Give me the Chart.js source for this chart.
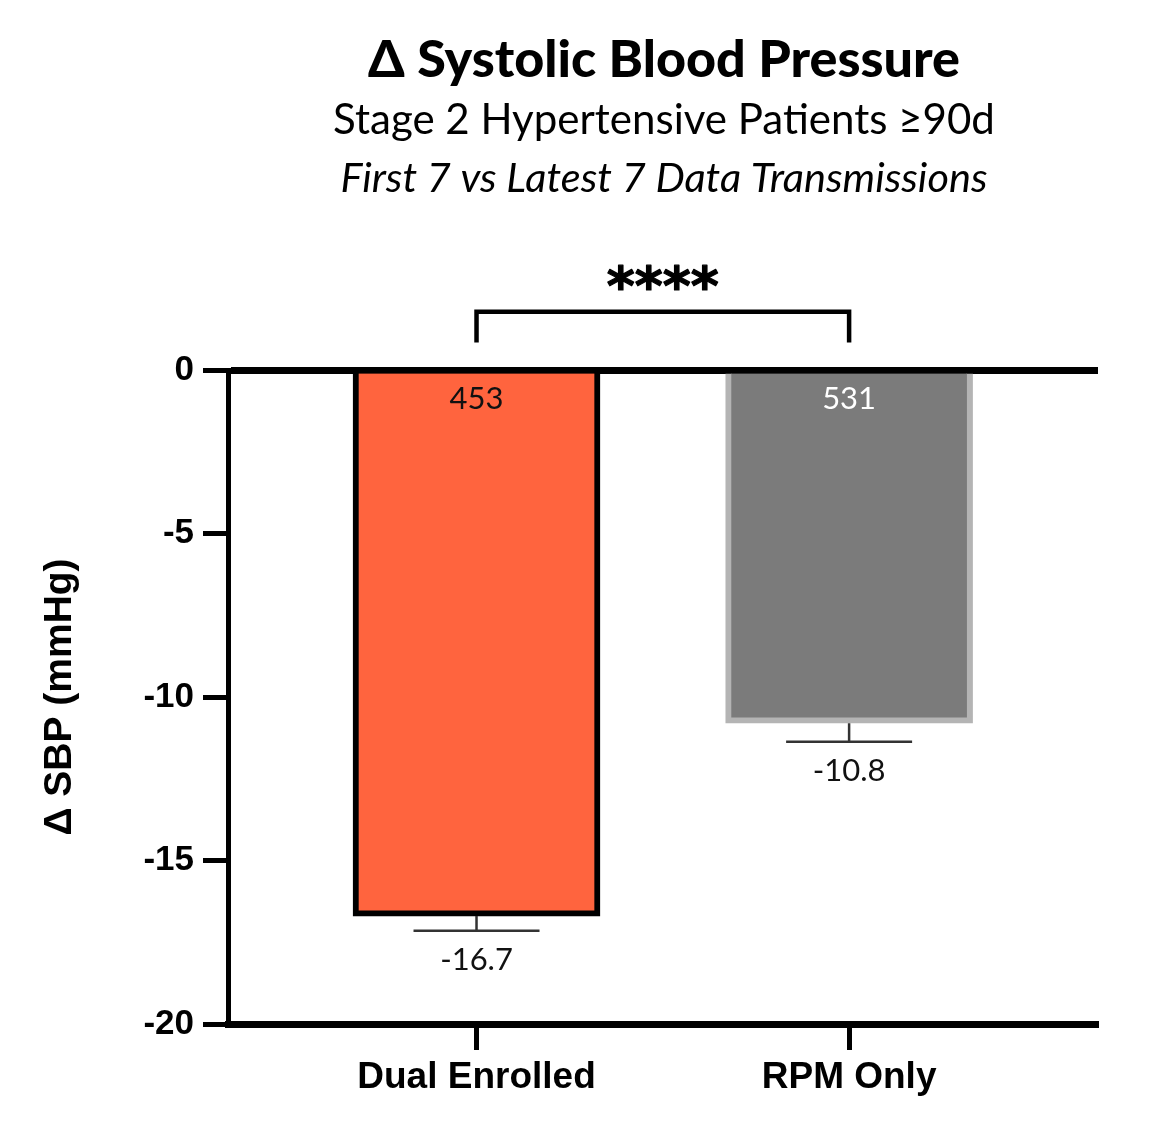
<!DOCTYPE html>
<html><head><meta charset="utf-8">
<script src="https://cdn.jsdelivr.net/npm/chart.js@4.4.1/dist/chart.umd.min.js"></script>
<style>html,body{margin:0;padding:0;background:#fff;} canvas{display:block;}</style>
</head><body>
<canvas id="c" width="1158" height="1138"></canvas>
<script>
const categories = ['Dual Enrolled', 'RPM Only'];
const meanChange = [-16.7, -10.8];
const semChange = [0.45, 0.57];
const patientCounts = ['453', '531'];
const meanLabels = ['-16.7', '-10.8'];
const yTickValues = [0, -5, -10, -15, -20];
const titleLines = ['Δ Systolic Blood Pressure', 'Stage 2 Hypertensive Patients ≥90d', 'First 7 vs Latest 7 Data Transmissions'];
const yAxisTitle = 'Δ SBP (mmHg)';
const sigPair = [0, 1];
const sigLabel = '****';

const GILL = 'Lato, "Open Sans", sans-serif';
const ARIAL = '"Liberation Sans", Arial, sans-serif';

function fitFont(ctx, text, tmpl, target) {
  ctx.font = tmpl(100);
  const w = ctx.measureText(text).width;
  return tmpl(100 * target / w);
}

const annot = {
  id: 'annot',
  afterDatasetsDraw(chart) {
    const {ctx, scales: {x, y}} = chart;
    ctx.save();
    meanChange.forEach((m, i) => {
      const px = x.getPixelForValue(i);
      const y0 = y.getPixelForValue(m);
      const y1 = y.getPixelForValue(m - semChange[i]);
      ctx.strokeStyle = '#333';
      ctx.lineWidth = 2.5;
      ctx.beginPath();
      ctx.moveTo(px, y0); ctx.lineTo(px, y1);
      ctx.moveTo(px - 63, y1); ctx.lineTo(px + 63, y1);
      ctx.stroke();
      ctx.textAlign = 'center';
      ctx.textBaseline = 'middle';
      ctx.fillStyle = '#111';
      ctx.font = '31px ' + GILL;
      ctx.fillText(meanLabels[i], px, y1 + 29);
      ctx.fillStyle = i === 0 ? '#111' : '#fff';
      ctx.fillText(patientCounts[i], px, y.getPixelForValue(0) + 29);
    });
    const bx0 = x.getPixelForValue(sigPair[0]);
    const bx1 = x.getPixelForValue(sigPair[1]);
    const btop = y.getPixelForValue(1.78);
    const btip = y.getPixelForValue(0.84);
    ctx.strokeStyle = '#000';
    ctx.lineWidth = 4.5;
    ctx.lineJoin = 'miter';
    ctx.beginPath();
    ctx.moveTo(bx0, btip); ctx.lineTo(bx0, btop); ctx.lineTo(bx1, btop); ctx.lineTo(bx1, btip);
    ctx.stroke();
    ctx.fillStyle = '#000';
    ctx.textAlign = 'center';
    ctx.textBaseline = 'alphabetic';
    ctx.font = fitFont(ctx, sigLabel, s => 'bold ' + s + 'px "DejaVu Sans", sans-serif', 112);
    const mt = ctx.measureText(sigLabel);
    const cy = y.getPixelForValue(2.83);
    const sy = cy + (mt.actualBoundingBoxAscent - mt.actualBoundingBoxDescent) / 2;
    ctx.fillText(sigLabel, (bx0 + bx1) / 2, sy);
    ctx.lineWidth = 1.2;
    ctx.lineJoin = 'round';
    ctx.strokeText(sigLabel, (bx0 + bx1) / 2, sy);
    const tx = 664;
    ctx.fillStyle = '#000';
    ctx.font = fitFont(ctx, titleLines[0], s => '900 ' + s + 'px ' + GILL, 592);
    ctx.fillText(titleLines[0], tx, 77);
    ctx.font = fitFont(ctx, titleLines[1], s => '400 ' + s + 'px ' + GILL, 662);
    ctx.fillText(titleLines[1], tx, 134);
    ctx.font = fitFont(ctx, titleLines[2], s => 'italic 400 ' + s + 'px ' + GILL, 647);
    ctx.fillText(titleLines[2], tx, 192);
    ctx.restore();
  }
};

new Chart(document.getElementById('c'), {
  type: 'bar',
  data: {
    datasets: [{
      data: categories.map((c, i) => ({x: i, y: meanChange[i]})),
      backgroundColor: ['#FF643E', '#7B7B7B'],
      borderColor: ['#000000', '#B4B4B4'],
      borderWidth: [6, 6],
      barThickness: 247,
      borderSkipped: 'start'
    }]
  },
  options: {
    responsive: false,
    animation: false,
    layout: {padding: {top: 370, right: 60, bottom: 0, left: 0}},
    plugins: {legend: {display: false}, tooltip: {enabled: false}, title: {display: false}},
    scales: {
      x: {
        type: 'linear',
        offset: false,
        min: -0.667,
        max: 1.668,
        afterBuildTicks: s => { s.ticks = categories.map((c, i) => ({value: i})); },
        afterFit: s => { s.height = 114; },
        ticks: {
          callback: v => categories[v],
          color: '#000',
          font: {family: ARIAL, size: 37, weight: 'bold'},
          padding: 6,
          maxRotation: 0,
          autoSkip: false
        },
        grid: {offset: false, drawOnChartArea: false, drawTicks: true, tickLength: 26, tickWidth: 5, tickColor: '#000'},
        border: {display: true, color: '#000', width: 7}
      },
      y: {
        min: -20,
        max: 0,
        z: 1,
        afterBuildTicks: s => { s.ticks = yTickValues.map(v => ({value: v})); },
        afterFit: s => { s.width = 228; },
        ticks: {
          callback: v => String(v),
          color: '#000',
          font: {family: ARIAL, size: 35, weight: 'bold'},
          padding: 9
        },
        grid: {
          color: c => (c.tick && c.tick.value === 0) ? '#000' : 'rgba(0,0,0,0)',
          lineWidth: c => (c.tick && c.tick.value === 0) ? 7 : 1,
          drawTicks: true, tickLength: 25, tickWidth: 5, tickColor: '#000'
        },
        border: {display: true, color: '#000', width: 5},
        title: {
          display: true,
          text: yAxisTitle,
          color: '#000',
          font: {family: ARIAL, size: 39, weight: 'bold'},
          padding: {top: 37, bottom: 0}
        }
      }
    }
  },
  plugins: [annot]
});
</script>
</body></html>
